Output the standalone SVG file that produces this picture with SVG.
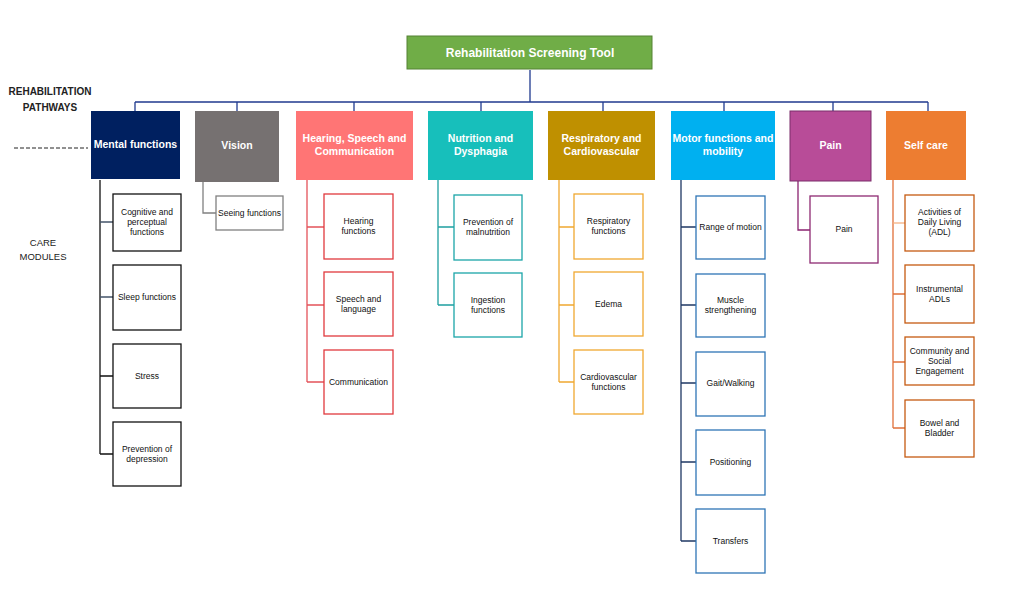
<svg xmlns="http://www.w3.org/2000/svg" width="1011" height="601" viewBox="0 0 1011 601">
<style>
.t{font-family:"Liberation Sans",Arial,sans-serif;}
.h{font-family:"Liberation Sans",Arial,sans-serif;font-weight:bold;font-size:10.5px;fill:#fff;text-anchor:middle;}
.s{font-family:"Liberation Sans",Arial,sans-serif;font-size:8.5px;fill:#111;text-anchor:middle;}
.lbl{font-family:"Liberation Sans",Arial,sans-serif;font-weight:bold;font-size:10px;fill:#222;text-anchor:middle;}
.lbl2{font-family:"Liberation Sans",Arial,sans-serif;font-size:9.5px;fill:#222;text-anchor:middle;}
.sub{fill:#fff;stroke-width:1.3;}
.c{fill:none;stroke-width:1.3;}
</style>
<rect width="1011" height="601" fill="#fff"/>
<text class="lbl" x="50" y="95">REHABILITATION</text>
<text class="lbl" x="50" y="111">PATHWAYS</text>
<text class="lbl2" x="43" y="246">CARE</text>
<text class="lbl2" x="43" y="260">MODULES</text>
<line x1="14" y1="148" x2="88" y2="148" stroke="#222" stroke-width="1" stroke-dasharray="4 2"/>
<g id="connectors">
<path class="c" stroke="#203a8f" d="M530 70V102M135 102H928M135 102V111M237 102V111M354 102V111M481 102V111M603 102V111M724 102V111M833 102V111M928 102V111"/>
<path class="c" stroke="#111" d="M100 180V454M100 376H113M100 454H113"/>
<path class="c" stroke="#44546A" d="M100 222H113M100 297H113"/>
<path class="c" stroke="#808080" d="M203 182V213H216"/>
<path class="c" stroke="#e4535a" d="M307 180V382M307 227H324M307 305H324M307 382H324"/>
<path class="c" stroke="#1e9fa0" d="M438 180V305M438 227H454M438 305H454"/>
<path class="c" stroke="#f0a830" d="M559 180V382M559 227H574M559 305H574M559 382H574"/>
<path class="c" stroke="#1f3864" d="M681 180V541M681 227H696M681 305H696M681 383H696M681 462H696M681 541H696"/>
<path class="c" stroke="#8b2370" d="M798 181V230H810"/>
<path class="c" stroke="#e0703a" d="M893 180V428M893 294H905M893 362H905M893 428H905"/>
<path class="c" stroke="#f4b183" d="M893 223H905"/>
</g>
<g id="root">
<rect x="407" y="36" width="245" height="33" fill="#70ad47" stroke="#548235" stroke-width="1"/>
<text class="h" x="530" y="56.5" style="font-size:12px">Rehabilitation Screening Tool</text>
</g>
<g id="mental">
<rect x="91" y="111" width="89" height="68" fill="#002060"/>
<text class="h" x="135.5" y="148">Mental functions</text>
</g>
<g id="vision">
<rect x="195" y="111" width="84" height="71" fill="#767171"/>
<text class="h" x="237" y="149">Vision</text>
</g>
<g id="hearing">
<rect x="296" y="111" width="117" height="69" fill="#ff7575"/>
<text class="h" x="354.5" y="142">Hearing, Speech and</text>
<text class="h" x="354.5" y="155">Communication</text>
</g>
<g id="nutrition">
<rect x="428" y="111" width="105" height="69" fill="#17bfbb"/>
<text class="h" x="480.5" y="142">Nutrition and</text>
<text class="h" x="480.5" y="155">Dysphagia</text>
</g>
<g id="respiratory">
<rect x="548" y="111" width="107" height="69" fill="#bf9000"/>
<text class="h" x="601.5" y="142">Respiratory and</text>
<text class="h" x="601.5" y="155">Cardiovascular</text>
</g>
<g id="motor">
<rect x="671" y="111" width="104" height="69" fill="#00b0f0"/>
<text class="h" x="723" y="142">Motor functions and</text>
<text class="h" x="723" y="155">mobility</text>
</g>
<g id="pain">
<rect x="790" y="111" width="81" height="70" fill="#b84c98" stroke="#7b2c6a" stroke-width="1"/>
<text class="h" x="830.5" y="149">Pain</text>
</g>
<g id="selfcare">
<rect x="886" y="111" width="80" height="69" fill="#ed7d31"/>
<text class="h" x="926" y="149">Self care</text>
</g>
<g id="m1"><rect class="sub" stroke="#111" x="113" y="194" width="68" height="57"/><text class="s" x="147" y="215">Cognitive and</text><text class="s" x="147" y="225">perceptual</text><text class="s" x="147" y="235">functions</text></g>
<g id="m2"><rect class="sub" stroke="#111" x="113" y="265" width="68" height="65"/><text class="s" x="147" y="300">Sleep functions</text></g>
<g id="m3"><rect class="sub" stroke="#111" x="113" y="344" width="68" height="64"/><text class="s" x="147" y="379">Stress</text></g>
<g id="m4"><rect class="sub" stroke="#111" x="113" y="422" width="68" height="64"/><text class="s" x="147" y="452">Prevention of</text><text class="s" x="147" y="462">depression</text></g>
<g id="v1"><rect class="sub" stroke="#808080" x="216" y="196" width="67" height="34"/><text class="s" x="249.5" y="216">Seeing functions</text></g>
<g id="h1"><rect class="sub" stroke="#e0393e" x="324" y="194" width="69" height="65"/><text class="s" x="358.5" y="224">Hearing</text><text class="s" x="358.5" y="234">functions</text></g>
<g id="h2"><rect class="sub" stroke="#e0393e" x="324" y="272" width="69" height="64"/><text class="s" x="358.5" y="302">Speech and</text><text class="s" x="358.5" y="312">language</text></g>
<g id="h3"><rect class="sub" stroke="#e0393e" x="324" y="350" width="69" height="64"/><text class="s" x="358.5" y="385">Communication</text></g>
<g id="n1"><rect class="sub" stroke="#1ba5a8" x="454" y="195" width="68" height="65"/><text class="s" x="488" y="225">Prevention of</text><text class="s" x="488" y="235">malnutrition</text></g>
<g id="n2"><rect class="sub" stroke="#1ba5a8" x="454" y="273" width="68" height="64"/><text class="s" x="488" y="303">Ingestion</text><text class="s" x="488" y="313">functions</text></g>
<g id="r1"><rect class="sub" stroke="#f0a830" x="574" y="194" width="69" height="65"/><text class="s" x="608.5" y="224">Respiratory</text><text class="s" x="608.5" y="234">functions</text></g>
<g id="r2"><rect class="sub" stroke="#f0a830" x="574" y="272" width="69" height="64"/><text class="s" x="608.5" y="307">Edema</text></g>
<g id="r3"><rect class="sub" stroke="#f0a830" x="574" y="350" width="69" height="64"/><text class="s" x="608.5" y="380">Cardiovascular</text><text class="s" x="608.5" y="390">functions</text></g>
<g id="mo1"><rect class="sub" stroke="#2e75b6" x="696" y="196" width="69" height="63"/><text class="s" x="730.5" y="230">Range of motion</text></g>
<g id="mo2"><rect class="sub" stroke="#2e75b6" x="696" y="274" width="69" height="63"/><text class="s" x="730.5" y="303">Muscle</text><text class="s" x="730.5" y="313">strengthening</text></g>
<g id="mo3"><rect class="sub" stroke="#2e75b6" x="696" y="352" width="69" height="64"/><text class="s" x="730.5" y="386">Gait/Walking</text></g>
<g id="mo4"><rect class="sub" stroke="#2e75b6" x="696" y="430" width="69" height="65"/><text class="s" x="730.5" y="465">Positioning</text></g>
<g id="mo5"><rect class="sub" stroke="#2e75b6" x="696" y="509" width="69" height="64"/><text class="s" x="730.5" y="544">Transfers</text></g>
<g id="p1"><rect class="sub" stroke="#8e2a72" x="810" y="196" width="68" height="67"/><text class="s" x="844" y="232">Pain</text></g>
<g id="s1"><rect class="sub" stroke="#c55a11" x="905" y="195" width="69" height="56"/><text class="s" x="939.5" y="215">Activities of</text><text class="s" x="939.5" y="225">Daily Living</text><text class="s" x="939.5" y="235">(ADL)</text></g>
<g id="s2"><rect class="sub" stroke="#c55a11" x="905" y="265" width="69" height="58"/><text class="s" x="939.5" y="292">Instrumental</text><text class="s" x="939.5" y="302">ADLs</text></g>
<g id="s3"><rect class="sub" stroke="#c55a11" x="905" y="337" width="69" height="48"/><text class="s" x="939.5" y="354">Community and</text><text class="s" x="939.5" y="364">Social</text><text class="s" x="939.5" y="374">Engagement</text></g>
<g id="s4"><rect class="sub" stroke="#c55a11" x="905" y="400" width="69" height="57"/><text class="s" x="939.5" y="426">Bowel and</text><text class="s" x="939.5" y="436">Bladder</text></g>
</svg>
